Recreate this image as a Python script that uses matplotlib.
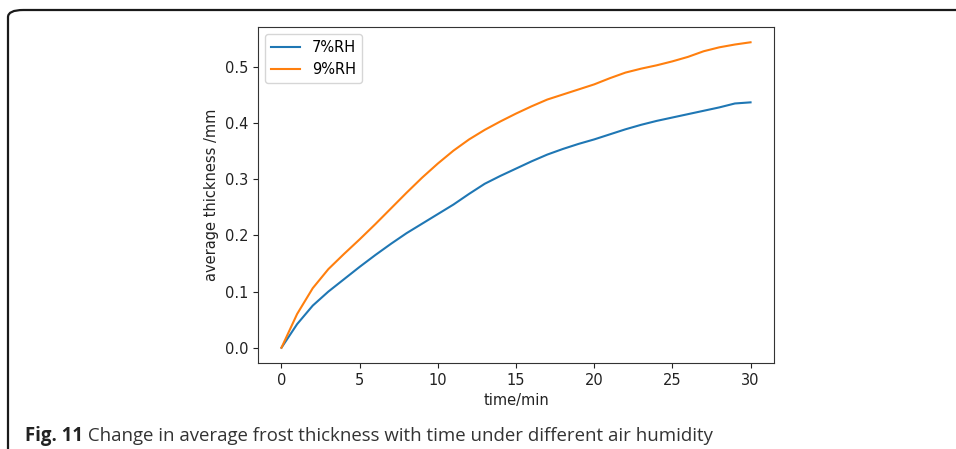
import matplotlib
matplotlib.use("Agg")
import matplotlib.pyplot as plt
from matplotlib.patches import FancyBboxPatch

plt.rcParams["font.family"] = ["DejaVu Sans"]

# Frost thickness measurements, one sample per minute
time_min = list(range(0, 31))
rh7 = [0.000, 0.042, 0.075, 0.100, 0.122, 0.144, 0.165, 0.185, 0.204, 0.221,
       0.238, 0.255, 0.274, 0.292, 0.306, 0.319, 0.332, 0.344, 0.354, 0.363,
       0.371, 0.380, 0.389, 0.397, 0.404, 0.410, 0.416, 0.422, 0.428, 0.435,
       0.437]
rh9 = [0.000, 0.060, 0.106, 0.140, 0.167, 0.193, 0.220, 0.248, 0.276, 0.303,
       0.328, 0.351, 0.371, 0.388, 0.403, 0.417, 0.430, 0.442, 0.451, 0.460,
       0.469, 0.480, 0.490, 0.497, 0.503, 0.510, 0.518, 0.528, 0.535, 0.540,
       0.544]
series_labels = ["7%RH", "9%RH"]
x_label = "time/min"
y_label = "average thickness /mm"
caption_bold = "Fig. 11"
caption_text = " Change in average frost thickness with time under different air humidity"

W, H, DPI = 956, 449, 100
fig = plt.figure(figsize=(W / DPI, H / DPI), dpi=DPI)

# Rounded frame around the figure panel
frame = FancyBboxPatch((8 / W, -12 / H), 1.2, (449 - 10 + 12) / H,
                       boxstyle="round,pad=0,rounding_size=0.016",
                       transform=fig.transFigure, fill=False,
                       edgecolor="#1a1a1a", linewidth=1.6, clip_on=False)
fig.patches.append(frame)

ax = fig.add_axes([258 / W, 1 - 363 / H, (774 - 258) / W, (363 - 27) / H])
ax.plot(time_min, rh7, color="#1f77b4", lw=1.5, label=series_labels[0])
ax.plot(time_min, rh9, color="#ff7f0e", lw=1.5, label=series_labels[1])
ax.set_xticks([0, 5, 10, 15, 20, 25, 30])
ax.set_yticks([0.0, 0.1, 0.2, 0.3, 0.4, 0.5])
ax.tick_params(labelsize=10.5, colors="#222222")
ax.set_xlabel(x_label, fontsize=10.5, color="#222222")
ax.set_ylabel(y_label, fontsize=10.5, color="#222222")
for s in ax.spines.values():
    s.set_color("#333333")
ax.legend(loc="upper left", fontsize=10.5)

# Caption below the plot
t1 = fig.text(25 / W, 1 - 441 / H, caption_bold, fontsize=13.4,
              fontweight="bold", family="Open Sans", color="#222222",
              va="baseline")
ann = fig.text(0, 0, caption_text, fontsize=13.4, family="Open Sans",
               color="#333333", va="baseline")
fig.canvas.draw()
bb = t1.get_window_extent()
ann.set_position((bb.x1 / W, 1 - 441 / H))

fig.savefig("out.png", dpi=DPI)
